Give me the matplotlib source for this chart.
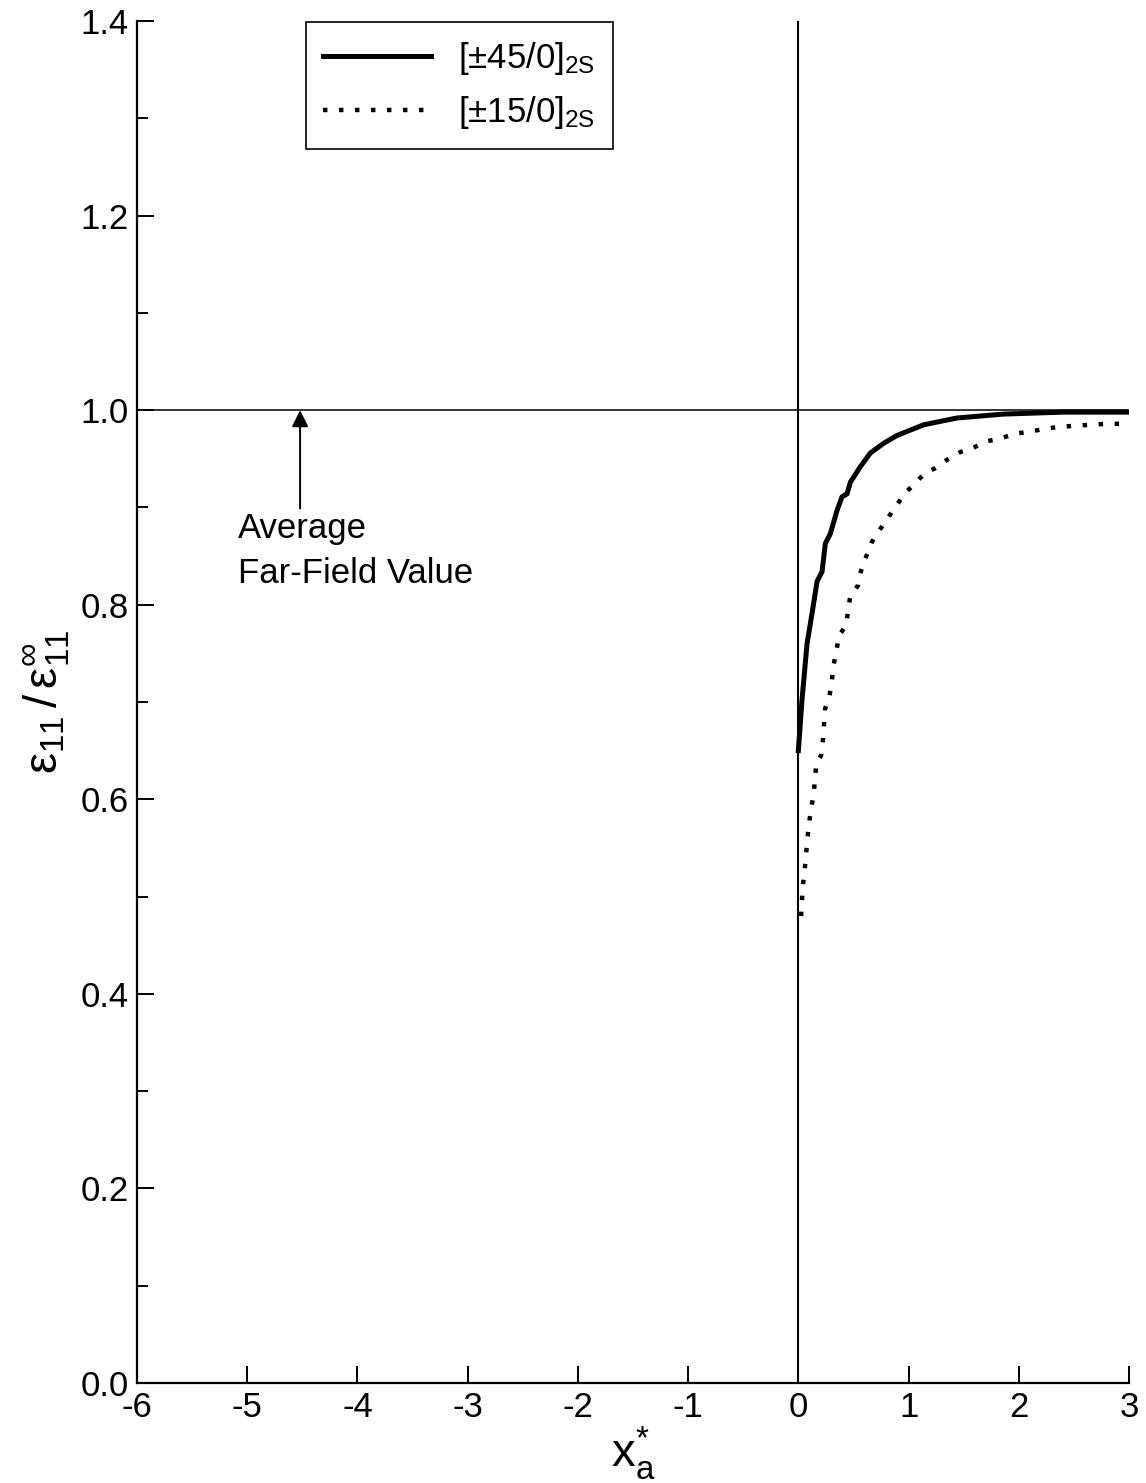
import numpy as np
import matplotlib
matplotlib.use('Agg')
import matplotlib.pyplot as plt
from matplotlib.ticker import MultipleLocator, FormatStrFormatter

plt.rcParams['font.family'] = ['Liberation Sans', 'DejaVu Sans']
plt.rcParams['mathtext.fontset'] = 'custom'
plt.rcParams['mathtext.rm'] = 'Liberation Sans'
plt.rcParams['mathtext.it'] = 'Liberation Sans:italic'
plt.rcParams['mathtext.bf'] = 'Liberation Sans:bold'
plt.rcParams['axes.unicode_minus'] = False

# normalized strain ahead of the notch, two layups
x_45 = [0.0, 0.033, 0.079, 0.124, 0.17, 0.215, 0.245, 0.29, 0.351, 0.396, 0.442,
        0.472, 0.563, 0.653, 0.774, 0.895, 1.137, 1.44, 1.86, 2.4, 3.0]
e_45 = [0.65, 0.702, 0.760, 0.791, 0.824, 0.834, 0.863, 0.873, 0.897, 0.911, 0.914,
        0.926, 0.942, 0.956, 0.966, 0.974, 0.985, 0.992, 0.996, 0.998, 0.998]

x_15 = [0.025, 0.033, 0.042, 0.057, 0.07, 0.082, 0.097, 0.115, 0.139, 0.151, 0.163,
        0.206, 0.224, 0.233, 0.242, 0.284, 0.305, 0.32, 0.345, 0.372, 0.436, 0.451,
        0.472, 0.542, 0.569, 0.617, 0.669, 0.738, 0.81, 0.889, 0.971, 1.068, 1.146,
        1.234, 1.349, 1.47, 1.582, 1.706, 1.833, 1.975, 2.105, 2.241, 2.377, 2.514,
        2.65, 2.795, 3.0]
e_15 = [0.48, 0.496, 0.512, 0.527, 0.543, 0.559, 0.575, 0.590, 0.605, 0.621, 0.637,
        0.645, 0.662, 0.677, 0.693, 0.707, 0.723, 0.738, 0.753, 0.769, 0.779, 0.795,
        0.809, 0.820, 0.835, 0.850, 0.865, 0.877, 0.889, 0.902, 0.915, 0.926, 0.935,
        0.940, 0.949, 0.957, 0.961, 0.968, 0.971, 0.976, 0.978, 0.981, 0.983, 0.984,
        0.985, 0.986, 0.986]

labels = [r'[$\pm$45/0]$_{\mathregular{2S}}$', r'[$\pm$15/0]$_{\mathregular{2S}}$']
far_field = 1.0

fig = plt.figure(figsize=(11.46, 14.83), dpi=100)
ax = fig.add_axes([0.1195, 0.0674, 0.8657, 0.9184])

ax.axhline(far_field, color='black', lw=1.1, zorder=1)
ax.axvline(0.0, color='black', lw=1.5, zorder=1)

ax.plot(x_45, e_45, color='black', lw=3.6, solid_joinstyle='round', label=labels[0], zorder=3)
ax.plot(x_15, e_15, color='black', lw=3.2, linestyle=(0, (1, 2.6)),
        dash_capstyle='butt', label=labels[1], zorder=3)

ax.annotate('', xy=(-4.52, far_field), xytext=(-4.52, 0.899),
            arrowprops=dict(arrowstyle='-|>', color='black', lw=1.4,
                            mutation_scale=25, shrinkA=0, shrinkB=0))
ax.text(-5.08, 0.895, 'Average\nFar-Field Value', ha='left', va='top',
        fontsize=25, linespacing=1.45)

ax.set_xlim(-6, 3)
ax.set_ylim(0, 1.4)
ax.xaxis.set_major_locator(MultipleLocator(1))
ax.yaxis.set_major_locator(MultipleLocator(0.2))
ax.yaxis.set_minor_locator(MultipleLocator(0.1))
ax.yaxis.set_major_formatter(FormatStrFormatter('%.1f'))

for s in ['top', 'right']:
    ax.spines[s].set_visible(False)
for s in ['left', 'bottom']:
    ax.spines[s].set_linewidth(1.6)

ax.tick_params(which='major', direction='in', length=12, width=1.4, labelsize=25, pad=6)
ax.tick_params(which='minor', direction='in', length=8, width=1.4)
ax.tick_params(axis='x', which='minor', bottom=False)

ax.set_xlabel(r'x$_{\mathregular{a}}^{*}$', fontsize=34, labelpad=0)
ax.set_ylabel(r'$\mathrm{\varepsilon}_{11}\,/\,\mathrm{\varepsilon}_{11}^{\infty}$',
              fontsize=34, labelpad=6)

leg = ax.legend(loc='upper left', bbox_to_anchor=(0.170, 0.999), borderaxespad=0,
                fontsize=25, handlelength=3.1, handletextpad=0.8, labelspacing=0.5,
                borderpad=0.5, fancybox=False, framealpha=1, edgecolor='black')
leg.get_frame().set_linewidth(1.2)

fig.savefig('out.png', dpi=100)
